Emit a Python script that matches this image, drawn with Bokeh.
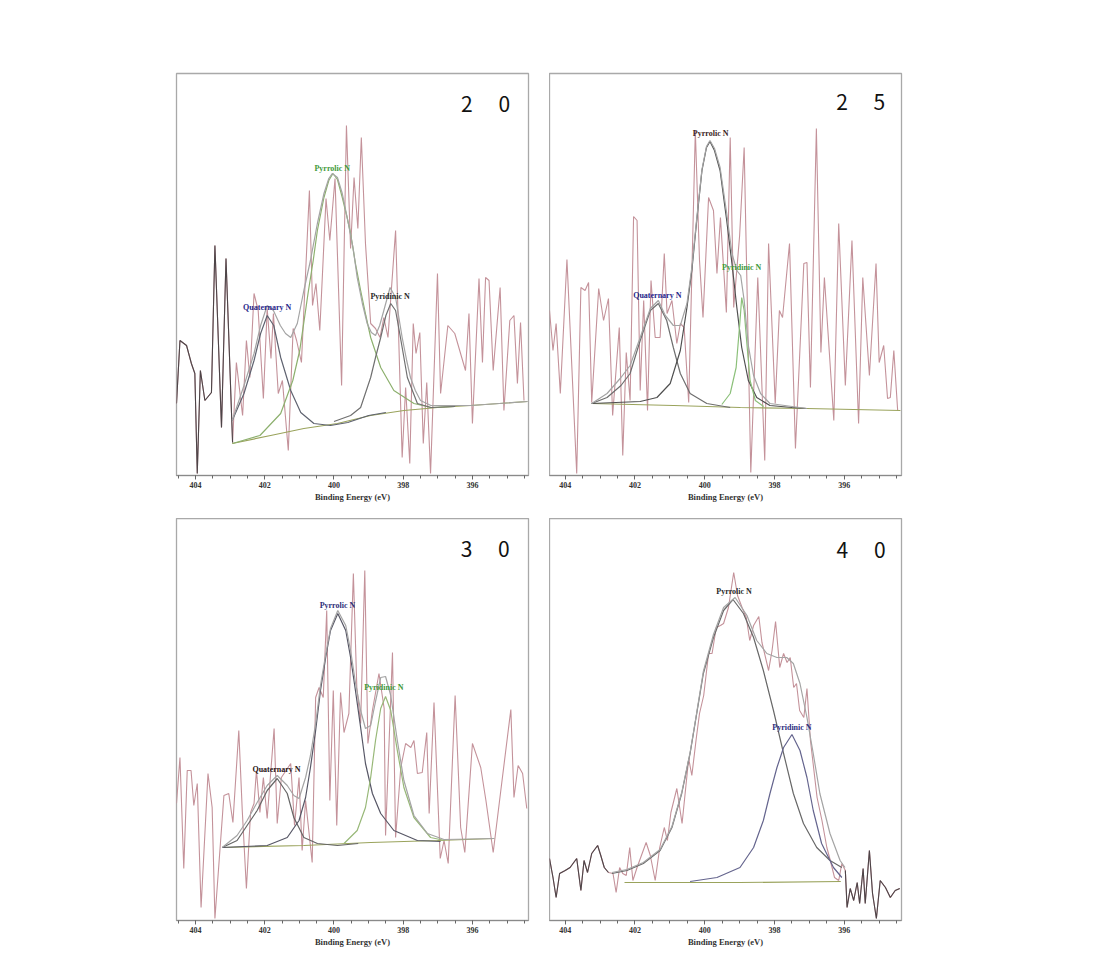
from bokeh.plotting import figure
from bokeh.layouts import row, column
from bokeh.models import Range1d, FixedTicker, Label, ColumnDataSource
from bokeh.core.properties import value
from bokeh.embed import file_html
from bokeh.resources import INLINE

# ---------------- axis ticks ----------------
major_ticks = [404, 402, 400, 398, 396]
minor_ticks = [404.5, 404.0, 403.5, 403.0, 402.5, 402.0, 401.5, 401.0, 400.5, 400.0,
               399.5, 399.0, 398.5, 398.0, 397.5, 397.0, 396.5, 396.0, 395.5, 395.0, 394.5]
x_label = "Binding Energy (eV)"
panel_tags = ["2\u2003\u00a00", "2\u2003\u00a05", "3\u2003\u00a00", "4\u2003\u00a00"]

# ---------------- panel "20" ----------------
p20_raw = [(404.55, 72), (404.45, 135), (404.26, 130), (404.12, 112), (404.02, 102), (403.95, 2),
           (403.86, 105), (403.73, 75), (403.54, 83), (403.44, 230), (403.25, 48), (403.12, 217),
           (402.93, 33), (402.82, 113), (402.64, 60), (402.53, 135), (402.43, 98), (402.31, 182),
           (402.19, 165), (402.04, 77), (401.93, 167), (401.82, 117), (401.75, 162), (401.61, 82),
           (401.49, 95), (401.32, 25), (401.18, 147), (401.08, 135), (400.94, 113), (400.71, 285),
           (400.62, 170), (400.52, 192), (400.41, 145), (400.23, 277), (400.12, 235), (399.97, 297),
           (399.78, 90), (399.64, 350), (399.52, 227), (399.42, 298), (399.31, 247), (399.21, 338),
           (399.09, 232), (398.94, 152), (398.80, 147), (398.67, 138), (398.56, 158), (398.44, 138),
           (398.22, 245), (398.03, 18), (397.93, 88), (397.81, 12), (397.71, 152), (397.63, 122),
           (397.52, 143), (397.42, 32), (397.32, 93), (397.21, 2), (397.01, 202), (396.92, 82),
           (396.71, 150), (396.51, 142), (396.20, 105), (396.10, 162), (396.00, 52), (395.81, 197),
           (395.71, 113), (395.62, 198), (395.52, 195), (395.40, 105), (395.20, 188), (395.09, 65),
           (394.92, 155), (394.80, 160), (394.70, 92), (394.61, 153), (394.51, 75)]
p20_base = [(402.94, 32), (401.83, 40), (400.87, 47), (399.90, 52), (398.94, 60), (397.98, 65),
            (397.01, 68), (396.05, 70), (394.41, 74)]
p20_quat = [(402.94, 55), (402.60, 82), (402.31, 115), (402.12, 142), (401.93, 160), (401.74, 150),
            (401.54, 118), (401.25, 85), (400.96, 63), (400.58, 52), (400.10, 50), (399.60, 53),
            (399.00, 60), (398.50, 63)]
p20_pyrr = [(402.93, 32), (402.14, 40), (401.54, 62), (401.19, 95), (400.99, 125), (400.85, 158),
            (400.75, 182), (400.60, 215), (400.48, 245), (400.29, 278), (400.15, 295), (400.03, 302),
            (399.90, 296), (399.76, 278), (399.62, 258), (399.52, 242), (399.38, 212), (399.23, 185),
            (399.08, 160), (398.94, 138), (398.65, 108), (398.27, 85), (397.69, 72), (397.20, 68),
            (396.50, 69)]
p20_pyri = [(400.00, 54), (399.52, 60), (399.23, 68), (398.94, 98), (398.80, 118), (398.65, 138),
            (398.50, 160), (398.36, 172), (398.22, 165), (398.08, 138), (397.88, 98), (397.59, 72),
            (397.20, 68), (396.50, 69)]
p20_env = [(402.94, 55), (402.60, 90), (402.31, 122), (402.12, 150), (401.93, 170), (401.75, 165),
           (401.55, 150), (401.40, 142), (401.25, 138), (401.06, 152), (400.87, 185), (400.68, 215),
           (400.48, 252), (400.29, 282), (400.15, 297), (400.05, 302), (399.90, 298), (399.76, 282),
           (399.62, 258), (399.45, 228), (399.33, 198), (399.18, 172), (399.04, 152), (398.92, 143),
           (398.80, 140), (398.68, 150), (398.56, 165), (398.38, 188), (398.22, 178), (398.03, 138),
           (397.90, 115), (397.79, 98), (397.65, 85), (397.50, 75), (397.20, 70), (396.05, 70),
           (394.41, 74)]
p20_labels = ["Pyrrolic N", "Quaternary N", "Pyridinic N"]
p20_label_pos = [(400.05, 307), (401.93, 168), (398.38, 179)]
p20_label_colors = ["#3f9a3a", "#1f1f8a", "#2a2a2a"]

# ---------------- panel "25" ----------------
p25_raw = [(404.45, 165), (404.35, 125), (404.26, 152), (404.14, 82), (403.95, 216), (403.67, 2),
           (403.55, 188), (403.43, 185), (403.33, 193), (403.24, 73), (403.04, 187), (402.90, 155),
           (402.76, 177), (402.64, 60), (402.45, 148), (402.35, 20), (402.25, 123), (402.14, 75),
           (402.04, 259), (401.94, 255), (401.85, 85), (401.75, 175), (401.64, 65), (401.54, 195),
           (401.42, 138), (401.28, 138), (401.16, 222), (401.08, 162), (400.94, 175), (400.80, 132),
           (400.70, 152), (400.59, 148), (400.46, 73), (400.27, 345), (400.15, 215), (400.05, 158),
           (399.89, 278), (399.75, 265), (399.65, 202), (399.55, 258), (399.38, 163), (399.27, 338),
           (399.17, 168), (399.00, 240), (398.87, 328), (398.68, 3), (398.48, 198), (398.28, 15),
           (398.17, 232), (397.98, 72), (397.86, 165), (397.77, 158), (397.57, 232), (397.40, 27),
           (397.16, 212), (397.07, 213), (396.97, 88), (396.80, 347), (396.67, 123), (396.57, 198),
           (396.30, 55), (396.16, 252), (395.97, 90), (395.78, 235), (395.59, 52), (395.47, 198),
           (395.28, 100), (395.09, 212), (395.00, 113), (394.87, 130), (394.76, 77), (394.68, 78),
           (394.58, 125), (394.47, 65)]
p25_base = [(403.24, 72), (400.89, 70), (398.98, 68), (397.07, 67), (394.39, 65)]
p25_quat = [(403.24, 72), (402.80, 78), (402.40, 90), (402.14, 102), (401.85, 135), (401.56, 165),
            (401.33, 172), (401.09, 155), (400.90, 128), (400.70, 102), (400.42, 82), (399.94, 72),
            (399.27, 68)]
p25_pyrr = [(403.24, 72), (401.85, 74), (401.37, 78), (400.99, 92), (400.70, 125), (400.51, 168),
            (400.37, 205), (400.23, 255), (400.08, 305), (399.95, 328), (399.85, 334), (399.72, 325),
            (399.56, 305), (399.37, 255), (399.22, 212), (399.08, 168), (398.94, 128), (398.75, 95),
            (398.51, 78), (398.13, 70), (397.50, 68), (397.07, 67)]
p25_pyri = [(399.51, 71), (399.27, 82), (399.10, 108), (399.00, 150), (398.94, 178), (398.87, 165),
            (398.80, 135), (398.70, 95), (398.55, 75), (398.31, 69)]
p25_env = [(403.24, 72), (402.80, 82), (402.40, 98), (402.14, 110), (401.85, 138), (401.56, 167),
           (401.33, 175), (401.13, 160), (400.90, 150), (400.70, 150), (400.51, 172), (400.37, 208),
           (400.23, 257), (400.08, 306), (399.95, 329), (399.85, 335), (399.72, 327), (399.56, 308),
           (399.37, 262), (399.22, 222), (399.08, 205), (398.97, 200), (398.87, 175), (398.75, 130),
           (398.60, 100), (398.40, 82), (398.13, 72), (397.07, 67)]
p25_labels = ["Pyrrolic N", "Pyridinic N", "Quaternary N"]
p25_label_pos = [(399.83, 342), (398.94, 208), (401.36, 180)]
p25_label_colors = ["#3a1c22", "#3f9a3a", "#1f1f8a"]

# ---------------- panel "30" ----------------
p30_raw = [(404.55, 117), (404.45, 163), (404.34, 52), (404.24, 150), (404.13, 150), (404.05, 115),
           (403.95, 137), (403.84, 13), (403.64, 147), (403.52, 113), (403.44, 2), (403.18, 125),
           (403.04, 127), (402.92, 98), (402.75, 190), (402.65, 110), (402.53, 32), (402.41, 108),
           (402.31, 117), (402.24, 150), (402.14, 108), (402.04, 143), (401.93, 102), (401.73, 192),
           (401.64, 97), (401.52, 143), (401.25, 157), (401.14, 95), (401.01, 143), (400.92, 70),
           (400.82, 120), (400.63, 58), (400.53, 223), (400.43, 233), (400.31, 223), (400.21, 310),
           (400.12, 120), (400.02, 230), (399.92, 95), (399.81, 228), (399.71, 188), (399.57, 207),
           (399.44, 347), (399.34, 233), (399.23, 197), (399.11, 350), (399.02, 177), (398.89, 210),
           (398.70, 247), (398.55, 212), (398.51, 85), (398.31, 268), (398.22, 83), (398.07, 153),
           (397.93, 177), (397.78, 173), (397.69, 180), (397.59, 147), (397.45, 148), (397.32, 188),
           (397.25, 107), (397.11, 218), (396.93, 62), (396.82, 80), (396.70, 57), (396.50, 225),
           (396.34, 93), (396.22, 68), (396.00, 177), (395.76, 153), (395.61, 120), (395.40, 68),
           (395.18, 130), (394.89, 211), (394.80, 123), (394.68, 155), (394.55, 147), (394.43, 112)]
p30_base = [(403.23, 73), (400.87, 75), (398.94, 78), (397.01, 80), (395.37, 82)]
p30_quat = [(403.23, 73), (402.80, 80), (402.51, 95), (402.22, 110), (401.93, 130), (401.64, 142),
            (401.35, 127), (401.16, 103), (400.87, 83), (400.48, 77), (399.90, 75), (399.30, 77)]
p30_pyrr = [(403.23, 73), (401.93, 75), (401.35, 83), (401.01, 100), (400.82, 123), (400.68, 153),
            (400.53, 190), (400.39, 230), (400.24, 263), (400.10, 290), (399.89, 307), (399.66, 290),
            (399.52, 263), (399.38, 230), (399.23, 193), (399.09, 157), (398.89, 127), (398.65, 107),
            (398.27, 90), (397.59, 80), (396.92, 79)]
p30_pyri = [(399.71, 77), (399.33, 90), (399.09, 113), (398.94, 143), (398.80, 180), (398.65, 212),
            (398.51, 224), (398.36, 210), (398.17, 170), (397.98, 133), (397.69, 103), (397.21, 83),
            (396.80, 80)]
p30_env = [(403.23, 73), (402.80, 85), (402.51, 100), (402.22, 118), (401.93, 135), (401.64, 145),
           (401.35, 135), (401.16, 125), (401.01, 122), (400.82, 143), (400.68, 165), (400.53, 197),
           (400.39, 235), (400.24, 266), (400.10, 292), (399.89, 310), (399.66, 295), (399.52, 270),
           (399.38, 238), (399.23, 210), (399.09, 192), (398.94, 195), (398.80, 219), (398.65, 243),
           (398.51, 244), (398.36, 225), (398.17, 180), (397.98, 140), (397.69, 105), (397.30, 87),
           (396.82, 81), (395.37, 82)]
p30_labels = ["Pyrrolic N", "Pyridinic N", "Quaternary N"]
p30_label_pos = [(399.90, 315), (398.56, 233), (401.66, 151)]
p30_label_colors = ["#2e2e78", "#3f9a3a", "#2a1414"]

# ---------------- panel "40" ----------------
p40_raw = [(404.45, 62), (404.35, 43), (404.26, 23), (404.16, 47), (404.00, 50), (403.86, 53),
           (403.67, 62), (403.55, 30), (403.46, 60), (403.36, 48), (403.24, 67), (403.07, 75),
           (402.98, 65), (402.88, 53), (402.76, 48), (402.63, 47), (402.54, 28), (402.44, 53),
           (402.35, 47), (402.25, 45), (402.15, 73), (402.06, 40), (401.94, 53), (401.68, 78),
           (401.56, 65), (401.42, 40), (401.29, 73), (401.16, 93), (401.07, 80), (400.97, 108),
           (400.80, 132), (400.65, 97), (400.46, 162), (400.37, 145), (400.24, 183), (400.15, 207),
           (400.03, 225), (399.89, 267), (399.79, 267), (399.67, 293), (399.55, 295), (399.46, 297),
           (399.32, 313), (399.17, 348), (399.06, 325), (398.93, 313), (398.81, 303), (398.71, 280),
           (398.60, 295), (398.45, 304), (398.36, 278), (398.17, 250), (398.07, 270), (397.97, 299),
           (397.85, 253), (397.74, 267), (397.64, 258), (397.55, 263), (397.45, 233), (397.37, 237),
           (397.28, 210), (397.16, 203), (397.07, 232), (396.97, 180), (396.78, 123), (396.64, 100),
           (396.50, 73), (396.40, 60), (396.28, 43), (396.16, 40), (396.07, 57), (395.97, 50),
           (395.92, 13), (395.83, 32), (395.73, 20), (395.63, 38), (395.56, 17), (395.46, 52),
           (395.40, 17), (395.28, 70), (395.19, 27), (395.08, 2), (394.97, 40), (394.82, 33),
           (394.68, 23), (394.54, 30), (394.41, 32)]
p40_base = [(402.30, 38), (399.00, 38), (396.10, 39)]
p40_pyrr = [(402.66, 47), (402.23, 50), (401.76, 57), (401.28, 70), (400.94, 93), (400.66, 127),
            (400.42, 167), (400.23, 207), (400.04, 247), (399.75, 283), (399.46, 310), (399.19, 321),
            (398.89, 307), (398.60, 283), (398.32, 250), (398.03, 210), (397.74, 167), (397.46, 127),
            (397.17, 97), (396.79, 73), (396.41, 60), (396.07, 53)]
p40_pyri = [(400.42, 39), (399.65, 43), (398.99, 53), (398.60, 73), (398.32, 100), (398.13, 127),
            (397.93, 153), (397.74, 173), (397.50, 186), (397.27, 170), (397.07, 143), (396.89, 110),
            (396.65, 77), (396.31, 53), (396.07, 43)]
p40_env = [(402.66, 48), (402.23, 51), (401.76, 58), (401.28, 71), (400.94, 94), (400.66, 128),
           (400.42, 168), (400.23, 208), (400.04, 249), (399.75, 286), (399.46, 313), (399.13, 323),
           (398.79, 305), (398.51, 280), (398.22, 267), (397.93, 263), (397.65, 263), (397.46, 257),
           (397.27, 237), (397.07, 203), (396.89, 167), (396.70, 127), (396.41, 87), (396.12, 60),
           (395.98, 53)]
p40_labels = ["Pyrrolic N", "Pyridinic N"]
p40_label_pos = [(399.16, 329), (397.50, 193)]
p40_label_colors = ["#2a2a2a", "#2e2e80"]

RAW_COLOR = "#c4929a"
ENV_COLOR = "#a4a4a4"
BASE_COLOR = "#9aa35c"
SERIF_NAME = "Liberation Serif"


def xs(pts):
    return [a for a, b in pts]


def ys(pts):
    return [b for a, b in pts]


def panel(tag, tag_pos, raw, base, comps, env, labels, label_pos, label_colors,
          x_start, x_end, dark_above=None, dark_below=None,
          top=0, bottom=30, left=0, right=0):
    p = figure(frame_width=352, frame_height=402,
               x_range=Range1d(x_start, x_end), y_range=Range1d(0, 402),
               output_backend="svg", toolbar_location=None, y_axis_location=None,
               min_border_left=left, min_border_right=right,
               min_border_top=top, min_border_bottom=bottom,
               background_fill_color="white", border_fill_color="white")
    p.grid.visible = False
    p.outline_line_color = "#a9a9a9"
    p.outline_line_width = 1.3

    ax = p.xaxis[0]
    ax.ticker = FixedTicker(ticks=major_ticks, minor_ticks=minor_ticks)
    ax.axis_label = x_label
    ax.axis_label_text_font = SERIF_NAME
    ax.axis_label_text_font_style = "bold"
    ax.axis_label_text_font_size = "8.5px"
    ax.axis_label_text_color = "#333333"
    ax.axis_label_standoff = 1
    ax.major_label_text_font = SERIF_NAME
    ax.major_label_text_font_style = "bold"
    ax.major_label_text_font_size = "8px"
    ax.major_label_text_color = "#333333"
    ax.major_label_standoff = 2
    ax.axis_line_color = "#8a8a8a"
    ax.major_tick_line_color = "#666666"
    ax.minor_tick_line_color = "#666666"
    ax.major_tick_in = 0
    ax.major_tick_out = 4
    ax.minor_tick_in = 0
    ax.minor_tick_out = 3

    # raw spectrum
    p.line(xs(raw), ys(raw), line_color=RAW_COLOR, line_width=1.1)
    if dark_above is not None:
        seg = [pt for pt in raw if pt[0] >= dark_above]
        p.line(xs(seg), ys(seg), line_color="#4d4548", line_width=1.1)
    if dark_below is not None:
        seg = [pt for pt in raw if pt[0] <= dark_below]
        p.line(xs(seg), ys(seg), line_color="#4d4548", line_width=1.1)

    # baseline, components, envelope
    p.line(xs(base), ys(base), line_color=BASE_COLOR, line_width=1.2)
    for pts, col in comps:
        p.line(xs(pts), ys(pts), line_color=col, line_width=1.2)
    p.line(xs(env), ys(env), line_color=ENV_COLOR, line_width=1.2)

    src = ColumnDataSource(dict(x=xs(label_pos), y=ys(label_pos), t=labels, c=label_colors))
    p.text(x="x", y="y", text="t", text_color="c", source=src,
           text_font=value(SERIF_NAME), text_font_style="bold", text_font_size="8px",
           text_align="center", text_baseline="middle")

    p.add_layout(Label(x=tag_pos[0], y=tag_pos[1], text=tag,
                       text_font="Noto Sans CJK KR", text_font_size="21px",
                       text_color="#111111", text_align="center", text_baseline="middle"))
    return p


p1 = panel(panel_tags[0], (395.62, 373), p20_raw, p20_base,
           [(p20_quat, "#5f6370"), (p20_pyrr, "#8db06e"), (p20_pyri, "#707070")],
           p20_env, p20_labels, p20_label_pos, p20_label_colors,
           404.55, 394.38, dark_above=402.93, top=73, bottom=43, left=176, right=21)
p2 = panel(panel_tags[1], (395.53, 375), p25_raw, p25_base,
           [(p25_quat, "#6e6e6e"), (p25_pyrr, "#505050"), (p25_pyri, "#8cc07a")],
           p25_env, p25_labels, p25_label_pos, p25_label_colors,
           404.45, 394.36, top=73, bottom=43, left=0, right=10)
p3 = panel(panel_tags[2], (395.63, 373), p30_raw, p30_base,
           [(p30_quat, "#666666"), (p30_pyrr, "#575766"), (p30_pyri, "#98b878")],
           p30_env, p30_labels, p30_label_pos, p30_label_colors,
           404.55, 394.38, top=0, bottom=30, left=176, right=21)
p4 = panel(panel_tags[3], (395.52, 372), p40_raw, p40_base,
           [(p40_pyrr, "#686868"), (p40_pyri, "#65658e")],
           p40_env, p40_labels, p40_label_pos, p40_label_colors,
           404.45, 394.36, dark_above=402.66, dark_below=396.02,
           top=0, bottom=30, left=0, right=10)

layout = column(row(p1, p2), row(p3, p4))
open("out.html", "w").write(file_html(layout, INLINE))
